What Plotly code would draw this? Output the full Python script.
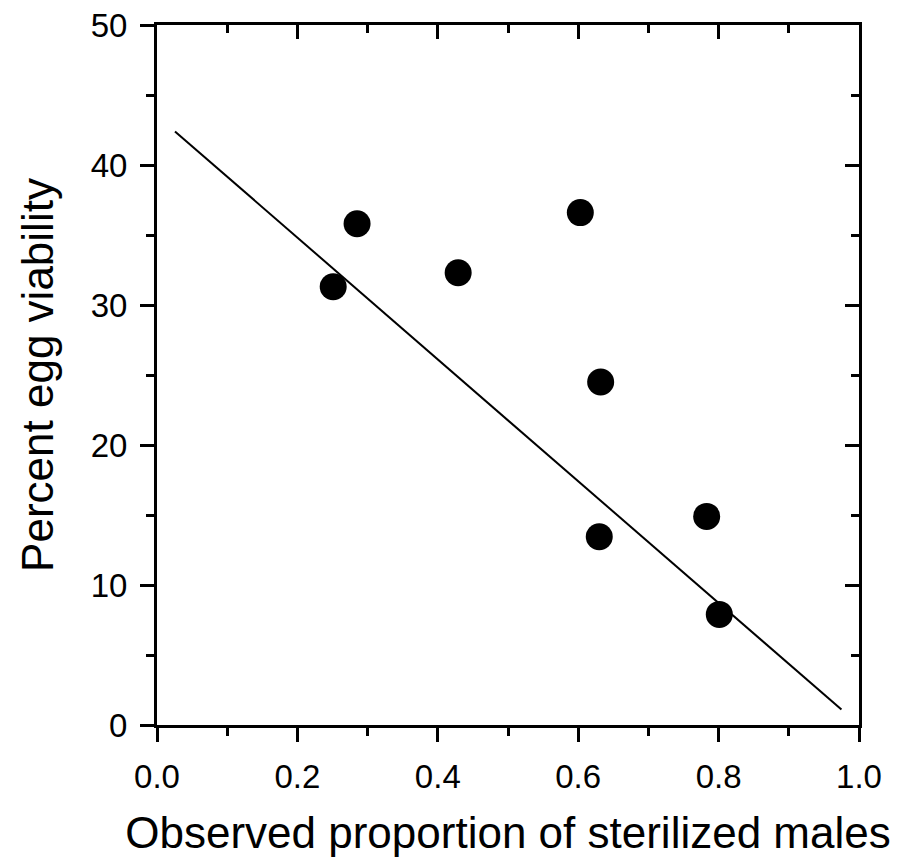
import plotly.graph_objects as go

# Observed data points
prop_sterile = [0.251, 0.285, 0.429, 0.603, 0.632, 0.630, 0.783, 0.801]
egg_viability = [31.3, 35.8, 32.3, 36.6, 24.5, 13.45, 14.9, 7.9]

# Regression line endpoints
fit_x = [0.0256, 0.975]
fit_y = [42.4, 1.1]

x_ticks = [0.0, 0.2, 0.4, 0.6, 0.8, 1.0]
x_tick_labels = ["0.0", "0.2", "0.4", "0.6", "0.8", "1.0"]
y_ticks = [0, 10, 20, 30, 40, 50]

FONT = "Liberation Sans, Arial, sans-serif"

fig = go.Figure()
fig.add_trace(go.Scatter(x=fit_x, y=fit_y, mode="lines",
                         line=dict(color="black", width=2), hoverinfo="skip",
                         showlegend=False))
fig.add_trace(go.Scatter(x=prop_sterile, y=egg_viability, mode="markers",
                         marker=dict(color="black", size=27), showlegend=False))
# invisible trace for the mirrored (top/right) axes
fig.add_trace(go.Scatter(x=prop_sterile, y=egg_viability, mode="markers",
                         marker=dict(opacity=0), xaxis="x2", yaxis="y2",
                         hoverinfo="skip", showlegend=False))

axis_common = dict(showgrid=False, zeroline=False, linecolor="black", linewidth=3,
                   tickcolor="black", tickwidth=3, automargin=False)

fig.update_layout(
    width=906, height=849,
    margin=dict(l=149, r=55, t=17, b=132),
    paper_bgcolor="white", plot_bgcolor="white",
    font=dict(family=FONT, color="black"),
    xaxis=dict(**axis_common, range=[0, 1], tickvals=x_ticks, ticktext=x_tick_labels,
               ticks="outside", ticklen=14, showline=True, mirror=True,
               ticklabelstandoff=6, ticklabeloverflow="allow",
               tickfont=dict(size=33, family=FONT),
               minor=dict(dtick=0.1, ticks="outside", ticklen=8, tickwidth=3, tickcolor="black"),
               title=dict(text="Observed proportion of sterilized males",
                          font=dict(size=44, family=FONT), standoff=24)),
    yaxis=dict(**axis_common, range=[0, 50], tickvals=y_ticks,
               ticks="outside", ticklen=14, showline=True, mirror=True,
               ticklabelstandoff=6, ticklabeloverflow="allow",
               tickfont=dict(size=33, family=FONT),
               minor=dict(dtick=5, ticks="outside", ticklen=8, tickwidth=3, tickcolor="black"),
               title=dict(text="Percent egg viability",
                          font=dict(size=44, family=FONT), standoff=24)),
    xaxis2=dict(**axis_common, range=[0, 1], tickvals=x_ticks, overlaying="x", side="top",
                anchor="y2", ticks="inside", ticklen=14, showticklabels=False, showline=False,
                minor=dict(dtick=0.1, ticks="inside", ticklen=8, tickwidth=3, tickcolor="black")),
    yaxis2=dict(**axis_common, range=[0, 50], tickvals=y_ticks, overlaying="y", side="right",
                anchor="x2", ticks="inside", ticklen=14, showticklabels=False, showline=False,
                minor=dict(dtick=5, ticks="inside", ticklen=8, tickwidth=3, tickcolor="black")),
)

fig.write_html("out.html")
